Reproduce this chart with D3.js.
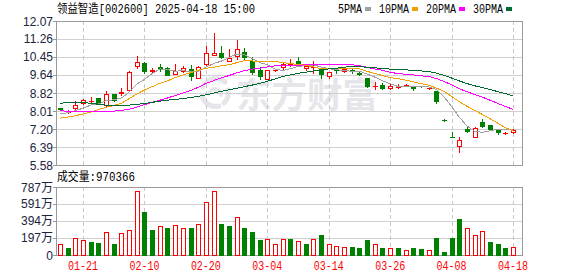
<!DOCTYPE html>
<html>
<head>
<meta charset="utf-8">
<script src="https://cdn.jsdelivr.net/npm/d3@7"></script>
<style>
body { margin: 0; background: #fff; }
svg text { font-family: "Liberation Sans", Arial, sans-serif; }
</style>
</head>
<body>
<div id="chart"></div>
<script>
// daily data, 2025-01-16 .. 2025-04-18
var dates = ['01-16','01-17','01-20','01-21','01-22','01-23','01-24','01-27','02-05','02-06',
    '02-07','02-10','02-11','02-12','02-13','02-14','02-17','02-18','02-19','02-20',
    '02-21','02-24','02-25','02-26','02-27','02-28','03-03','03-04','03-05','03-06',
    '03-07','03-10','03-11','03-12','03-13','03-14','03-17','03-18','03-19','03-20',
    '03-21','03-24','03-25','03-26','03-27','03-28','03-31','04-01','04-02','04-03',
    '04-07','04-08','04-09','04-10','04-11','04-14','04-15','04-16','04-17','04-18'];

var openP = [8.15,7.99,8.15,8.37,8.45,8.60,8.30,8.78,8.82,8.96,
    10.06,10.18,9.82,10.01,9.95,9.67,9.82,9.91,9.52,10.12,
    10.55,10.61,10.28,10.49,10.66,10.28,9.86,9.46,9.84,9.99,
    10.08,10.27,9.93,10.00,9.95,9.58,9.91,9.83,9.87,9.74,
    9.49,9.15,9.19,9.04,9.10,9.17,9.08,9.13,9.06,8.91,
    7.62,6.85,6.45,7.22,6.84,7.52,7.38,7.14,7.00,7.05];
var highP = [8.17,8.08,8.48,8.54,8.63,8.62,8.90,8.80,9.04,9.80,
    10.49,10.22,9.96,10.12,10.01,10.11,10.02,10.07,10.02,10.94,
    11.51,10.96,10.80,11.21,10.86,10.43,9.98,9.88,9.90,10.24,
    10.34,10.45,10.12,10.25,10.01,9.78,9.93,9.96,9.96,9.78,
    9.52,9.33,9.26,9.21,9.23,9.22,9.09,9.15,9.10,8.92,
    7.64,7.08,6.86,7.30,7.30,7.65,7.40,7.15,7.08,7.18];
var lowP = [8.07,7.94,8.12,8.33,8.41,8.33,8.26,8.48,8.75,8.92,
    9.94,9.72,9.72,9.80,9.62,9.66,9.78,9.43,9.50,10.10,
    10.53,10.40,10.26,10.34,10.29,9.70,9.47,9.44,9.82,9.91,
    10.05,10.07,9.85,9.73,9.51,9.51,9.73,9.78,9.73,9.64,
    9.10,8.99,9.00,9.00,9.05,9.12,8.95,9.10,8.99,8.36,
    7.58,6.84,6.17,7.05,6.82,7.31,7.14,6.96,6.96,7.00];
var closeP = [8.10,8.02,8.30,8.50,8.47,8.35,8.78,8.52,8.89,9.76,
    10.20,9.83,9.84,9.91,9.64,9.82,9.94,9.57,9.99,10.61,
    10.65,10.47,10.40,10.79,10.47,9.76,9.60,9.86,9.86,10.13,
    10.15,10.12,10.05,10.01,9.66,9.78,9.84,9.89,9.85,9.68,
    9.14,9.16,9.07,9.14,9.11,9.19,9.06,9.12,9.07,8.46,
    7.61,6.84,6.71,7.10,7.24,7.35,7.20,7.08,7.02,7.15];

var ma5 = [7.88,7.94,8.03,8.14,8.28,8.33,8.48,8.52,8.60,8.86,
    9.23,9.44,9.70,9.91,9.88,9.81,9.83,9.78,9.79,9.99,
    10.15,10.26,10.42,10.58,10.56,10.38,10.20,10.10,9.91,9.84,
    9.92,10.02,10.06,10.09,10.00,9.92,9.87,9.84,9.80,9.81,
    9.68,9.54,9.38,9.24,9.12,9.13,9.11,9.12,9.11,8.98,
    8.66,8.22,7.74,7.34,7.10,7.05,7.12,7.19,7.18,7.16];
var ma10 = [7.69,7.74,7.80,7.88,7.96,8.08,8.18,8.26,8.36,8.57,
    8.78,8.96,9.11,9.26,9.37,9.52,9.64,9.74,9.85,9.94,
    9.98,10.05,10.10,10.19,10.28,10.27,10.23,10.26,10.25,10.20,
    10.15,10.11,10.08,10.00,9.92,9.92,9.95,9.95,9.95,9.91,
    9.80,9.71,9.61,9.52,9.47,9.41,9.33,9.25,9.18,9.05,
    8.90,8.67,8.43,8.23,8.04,7.86,7.67,7.47,7.26,7.13];
var ma20 = [8.03,8.00,7.99,7.99,7.99,7.99,8.00,8.01,8.04,8.09,
    8.19,8.30,8.40,8.50,8.60,8.71,8.82,8.94,9.08,9.26,
    9.38,9.51,9.61,9.73,9.83,9.90,9.94,10.00,10.05,10.07,
    10.07,10.08,10.09,10.10,10.10,10.10,10.09,10.11,10.10,10.06,
    9.98,9.91,9.85,9.76,9.70,9.67,9.64,9.60,9.57,9.48,
    9.35,9.19,9.02,8.88,8.76,8.64,8.50,8.36,8.22,8.09];
var ma30 = [8.37,8.38,8.38,8.38,8.37,8.31,8.28,8.27,8.27,8.28,
    8.31,8.35,8.40,8.46,8.50,8.54,8.57,8.62,8.67,8.74,
    8.82,8.90,8.97,9.04,9.11,9.18,9.26,9.35,9.46,9.57,
    9.64,9.71,9.76,9.82,9.86,9.91,9.94,9.99,10.02,10.02,
    9.98,9.96,9.93,9.90,9.89,9.87,9.84,9.82,9.80,9.72,
    9.62,9.50,9.37,9.25,9.15,9.07,8.98,8.89,8.80,8.70];

// volume in 万 (10k lots), and whether the bar is drawn red
var volume = [127,81,193,174,150,139,266,127,251,286,
    737,497,289,332,312,343,312,312,355,610,
    737,359,336,436,312,266,174,181,124,181,
    181,162,127,181,231,124,104,89,89,81,
    174,124,81,81,81,58,81,69,58,197,
    35,197,417,309,228,274,150,127,81,97];
var volUp = [1,0,1,1,0,0,1,0,1,1,
    1,0,0,1,0,1,1,0,1,1,
    1,0,0,1,0,0,0,1,1,1,
    0,1,0,1,0,1,1,1,0,0,
    0,1,0,1,0,1,0,0,1,0,
    0,0,0,1,1,1,0,0,0,1];

var priceTicks = [5.58, 6.39, 7.20, 8.01, 8.82, 9.64, 10.45, 11.26, 12.07];
var volTicks = [0, 197, 394, 591, 787];
var labelDates = ['01-21','02-10','02-20','03-04','03-14','03-26','04-08','04-18'];

var maNames = ['5PMA', '10PMA', '20PMA', '30PMA'];
var maColors = ['#a0a0a0', '#f0a000', '#ff00ff', '#006a32'];
var maData = [ma5, ma10, ma20, ma30];

var width = 578, height = 276;
var left = 56, right = 522;
var pTop = 21, pBot = 165, vTop = 187, vBot = 255;
var red = '#ff0000', green = '#008000';

var svg = d3.select('#chart').append('svg')
    .attr('width', width)
    .attr('height', height);

var x = d3.scalePoint().domain(dates).range([60, 513]);
var y = d3.scaleLinear().domain([5.58, 12.07]).range([pBot, pTop]);
var yv = d3.scaleLinear().domain([0, 787]).range([vBot, vTop]);

function px(v) { return Math.round(v) + 0.5; }

// text drawn in a fixed half-width cell, like the original bitmap font
function cellText(g, str, tx, ty, cells, opts) {
    var t = g.append('text')
        .attr('x', tx).attr('y', ty)
        .attr('font-size', 12)
        .attr('fill', opts.fill || '#000')
        .style('font-family', '"Liberation Mono", "Noto Sans CJK SC", monospace')
        .attr('textLength', cells * 6)
        .attr('lengthAdjust', 'spacingAndGlyphs')
        .text(str);
    if (opts.anchor) t.attr('text-anchor', opts.anchor);
    return t;
}

// watermark
var wm = svg.append('g').attr('fill', '#e6e6ea');
wm.append('text')
    .attr('x', 236).attr('y', 108)
    .attr('font-size', 35)
    .attr('font-weight', 'bold')
    .style('font-family', '"Noto Sans CJK SC", sans-serif')
    .attr('textLength', 142)
    .attr('lengthAdjust', 'spacingAndGlyphs')
    .text('东方财富');
var logo = svg.append('g').attr('transform', 'translate(215,93)')
    .attr('fill', 'none').attr('stroke', '#e6e6ea').attr('stroke-linecap', 'round');
logo.append('path').attr('d', 'M-12,-6 A14,14 0 0,1 10,-11').attr('stroke-width', 5);
logo.append('path').attr('d', 'M-13,3 A14,14 0 0,0 4,13').attr('stroke-width', 5);
logo.append('path').attr('d', 'M13,-3 A14,14 0 0,1 9,10').attr('stroke-width', 5);
logo.append('path').attr('d', 'M-5,-1 A6,6 0 0,1 6,2').attr('stroke-width', 4);

// price panel grid
svg.append('g').selectAll('line')
    .data(priceTicks.slice(1, -1))
    .enter().append('line')
    .attr('x1', left).attr('x2', right)
    .attr('y1', function(d) { return px(y(d)); })
    .attr('y2', function(d) { return px(y(d)); })
    .attr('stroke', '#d0d0d0');

// volume panel grid
svg.append('g').selectAll('line')
    .data(volTicks.slice(1, -1))
    .enter().append('line')
    .attr('x1', left).attr('x2', right)
    .attr('y1', function(d) { return px(yv(d)); })
    .attr('y2', function(d) { return px(yv(d)); })
    .attr('stroke', '#d0d0d0');

// dashed date lines
[[pTop, pBot], [vTop, vBot]].forEach(function(r) {
    svg.append('g').selectAll('line')
        .data(labelDates)
        .enter().append('line')
        .attr('x1', function(d) { return px(x(d)); })
        .attr('x2', function(d) { return px(x(d)); })
        .attr('y1', r[0]).attr('y2', r[1])
        .attr('stroke', '#c8c8c8')
        .attr('stroke-dasharray', '4,3');
});

// frames
[[pTop, pBot], [vTop, vBot]].forEach(function(r) {
    svg.append('rect')
        .attr('x', left + 0.5).attr('y', r[0] + 0.5)
        .attr('width', right - left).attr('height', r[1] - r[0])
        .attr('fill', 'none')
        .attr('stroke', '#9a9a9a');
});

// price axis
svg.append('g').selectAll('line')
    .data(priceTicks)
    .enter().append('line')
    .attr('x1', left - 3).attr('x2', left)
    .attr('y1', function(d) { return px(y(d)); })
    .attr('y2', function(d) { return px(y(d)); })
    .attr('stroke', '#9a9a9a');
svg.append('g').selectAll('text')
    .data(priceTicks)
    .enter().append('text')
    .attr('x', 53)
    .attr('y', function(d) { return y(d) + 4.5; })
    .attr('text-anchor', 'end')
    .attr('font-size', 12)
    .attr('fill', '#1c2540')
    .text(function(d) { return d.toFixed(2); });

// volume axis
svg.append('g').selectAll('line')
    .data(volTicks)
    .enter().append('line')
    .attr('x1', left - 3).attr('x2', left)
    .attr('y1', function(d) { return px(yv(d)); })
    .attr('y2', function(d) { return px(yv(d)); })
    .attr('stroke', '#9a9a9a');
svg.append('g').selectAll('text')
    .data(volTicks)
    .enter().append('text')
    .attr('x', 53)
    .attr('y', function(d) { return yv(d) + 4.5; })
    .attr('text-anchor', 'end')
    .attr('font-size', 12)
    .attr('fill', '#1c2540')
    .style('font-family', '"Liberation Sans", "Noto Sans CJK SC", sans-serif')
    .text(function(d) { return d === 0 ? '0' : d + '万'; });

// date labels
labelDates.forEach(function(d) {
    cellText(svg, d, x(d), 270, 5, { fill: red, anchor: 'middle' });
});

// candles
var candles = svg.append('g').selectAll('g')
    .data(dates.map(function(d, i) {
        return { date: d, o: openP[i], h: highP[i], l: lowP[i], c: closeP[i] };
    }))
    .enter().append('g');
candles.append('line')
    .attr('x1', function(d) { return px(x(d.date)); })
    .attr('x2', function(d) { return px(x(d.date)); })
    .attr('y1', function(d) { return Math.round(y(d.h)); })
    .attr('y2', function(d) { return Math.round(y(d.l)) + 1; })
    .attr('stroke', function(d) { return d.c > d.o ? red : green; });
candles.append('rect')
    .attr('x', function(d) { return Math.round(x(d.date)) - 1.5; })
    .attr('y', function(d) { return Math.round(y(Math.max(d.o, d.c))) + 0.5; })
    .attr('width', 4)
    .attr('height', function(d) {
        return Math.max(0.01, Math.round(y(Math.min(d.o, d.c))) - Math.round(y(Math.max(d.o, d.c))));
    })
    .attr('fill', function(d) { return d.c > d.o ? '#fff' : green; })
    .attr('stroke', function(d) { return d.c > d.o ? red : green; });

// moving averages, drawn aliased like the source
var line = d3.line()
    .x(function(d, i) { return x(dates[i]); })
    .y(function(d) { return y(d); });
maData.forEach(function(arr, k) {
    svg.append('path')
        .datum(arr)
        .attr('d', line)
        .attr('fill', 'none')
        .attr('stroke', maColors[k])
        .attr('stroke-width', 1)
        .attr('shape-rendering', 'crispEdges');
});

// volume bars
svg.append('g').selectAll('rect')
    .data(volume)
    .enter().append('rect')
    .attr('x', function(d, i) { return Math.round(x(dates[i])) - 1.5; })
    .attr('y', function(d) { return Math.round(yv(d)) + 0.5; })
    .attr('width', 4)
    .attr('height', function(d) { return vBot - Math.round(yv(d)); })
    .attr('fill', function(d, i) { return volUp[i] ? '#fff' : green; })
    .attr('stroke', function(d, i) { return volUp[i] ? red : green; });

// title, legend, volume caption
cellText(svg, '领益智造[002600] 2025-04-18 15:00', 57, 13, 33, {});
cellText(svg, '成交量:970366', 57, 181, 13, {});

var lx = 338;
maNames.forEach(function(n, k) {
    cellText(svg, n, lx, 13, n.length, {});
    svg.append('rect')
        .attr('x', lx + n.length * 6 + 3).attr('y', 7)
        .attr('width', 6).attr('height', 4)
        .attr('fill', maColors[k]);
    lx += n.length * 6 + 17;
});
</script>
</body>
</html>
